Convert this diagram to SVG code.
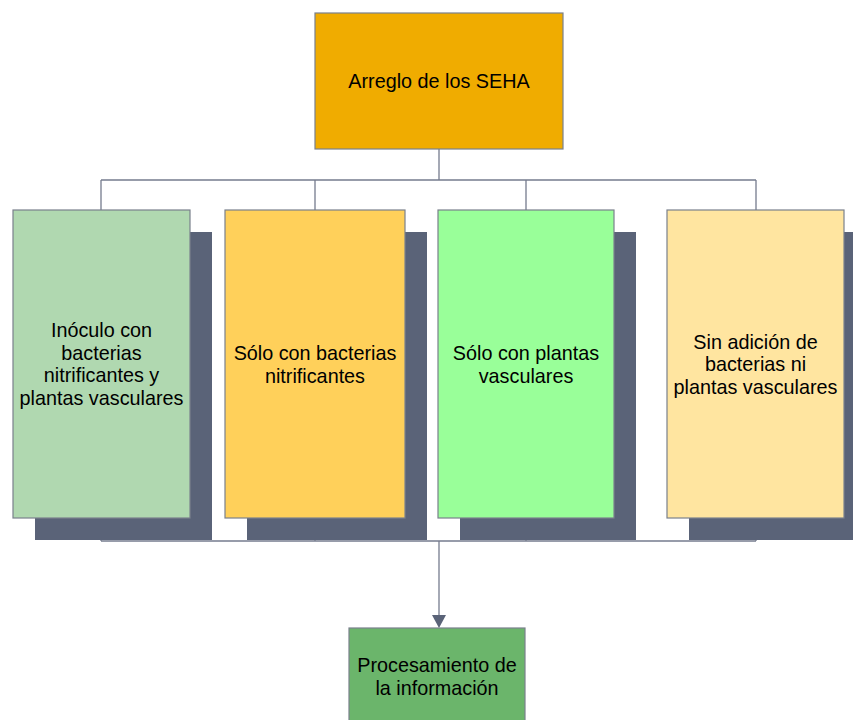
<svg xmlns="http://www.w3.org/2000/svg" width="853" height="720" viewBox="0 0 853 720">
<defs>
<style>
.box{stroke:#7A808C;stroke-width:1.2}
.sh{fill:#5A6378}
.ln{fill:none;stroke:#767C8E;stroke-width:1.3}
text{font-family:"Liberation Sans",Arial,sans-serif;font-size:19.8px;fill:#000;text-anchor:middle}
</style>
</defs>
<rect width="853" height="720" fill="#fff"/>
<g id="connectors">
<path class="ln" d="M439,149 V180 M101,180 H756 M101,180 V210 M315,180 V210 M526,180 V210 M756,180 V210"/>
<path class="ln" d="M101,518 V541 M315,518 V541 M526,518 V541 M756,518 V541 M101,541 H756"/>
<path class="ln" d="M439,541 V616"/>
<path d="M432,615 L446,615 L439,628 Z" fill="#5A6378"/>
</g>
<g id="top">
<rect class="box" x="315" y="13" width="248" height="136" fill="#F0AC00"/>
<text x="439" y="88">Arreglo de los SEHA</text>
</g>
<g id="n1">
<rect class="sh" x="35" y="232" width="177" height="308"/>
<rect class="box" x="13" y="210" width="177" height="308" fill="#B0D8B0"/>
<text x="101.5" y="337">Inóculo con</text>
<text x="101.5" y="360">bacterias</text>
<text x="101.5" y="382">nitrificantes y</text>
<text x="101.5" y="405">plantas vasculares</text>
</g>
<g id="n2">
<rect class="sh" x="247" y="232" width="180" height="308"/>
<rect class="box" x="225" y="210" width="180" height="308" fill="#FFD05A"/>
<text x="315" y="360">Sólo con bacterias</text>
<text x="315" y="383">nitrificantes</text>
</g>
<g id="n3">
<rect class="sh" x="460" y="232" width="176" height="308"/>
<rect class="box" x="438" y="210" width="176" height="308" fill="#99FF99"/>
<text x="526" y="360">Sólo con plantas</text>
<text x="526" y="383">vasculares</text>
</g>
<g id="n4">
<rect class="sh" x="689" y="232" width="177" height="308"/>
<rect class="box" x="667" y="210" width="177" height="308" fill="#FFE5A0"/>
<text x="755.5" y="349">Sin adición de</text>
<text x="755.5" y="371">bacterias ni</text>
<text x="755.5" y="394">plantas vasculares</text>
</g>
<g id="bottom">
<rect class="box" x="349" y="628" width="176" height="100" fill="#6BB56B"/>
<text x="437" y="672">Procesamiento de</text>
<text x="437" y="695">la información</text>
</g>
</svg>
